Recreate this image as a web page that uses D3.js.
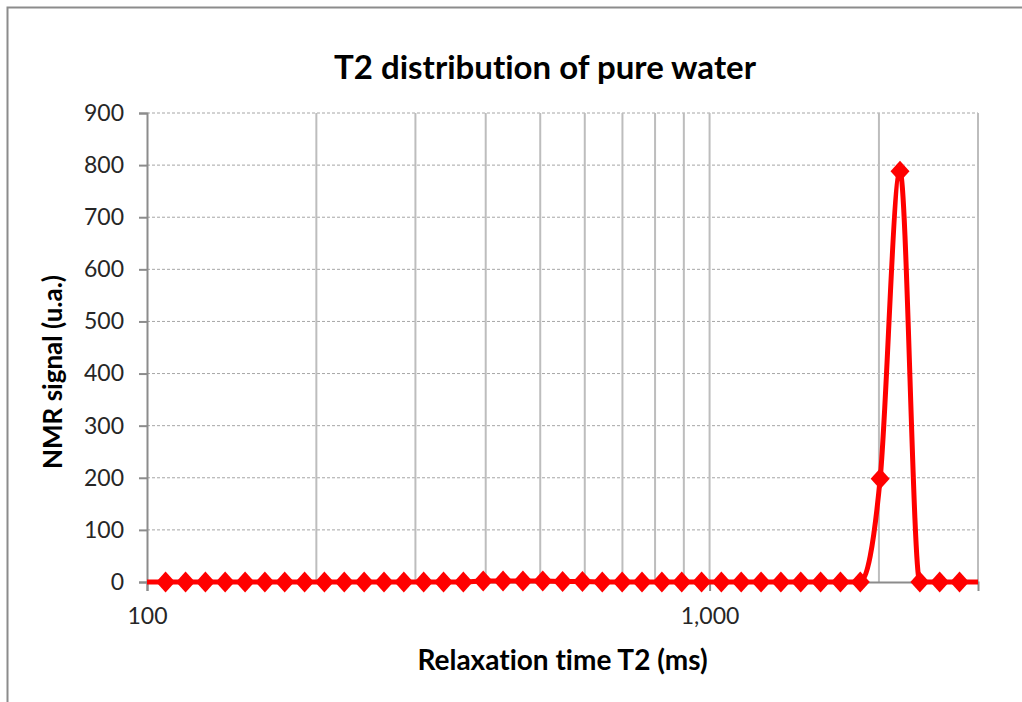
<!DOCTYPE html>
<html>
<head>
<meta charset="utf-8">
<script src="https://cdn.jsdelivr.net/npm/d3@7"></script>
<style>
  body { margin: 0; background: #fff; }
  svg { display: block; font-family: Lato, "Open Sans", "Liberation Sans", sans-serif; font-variant-ligatures: none; }
</style>
</head>
<body>
<svg id="chart" width="1022" height="702"></svg>
<script>
// T2 relaxation times (ms), log-spaced acquisition grid
const t2Ms = [99.5, 107.9, 117.1, 127.0, 137.7, 149.4, 162.0, 175.7, 190.6, 206.7,
  224.2, 243.2, 263.8, 286.1, 310.3, 336.6, 365.0, 395.9, 429.4, 465.8,
  505.2, 548.0, 594.3, 644.6, 699.2, 758.4, 822.6, 892.2, 967.7, 1049.3,
  1138.1, 1234.5, 1338.9, 1452.3, 1575.2, 1708.5, 1853.1, 2010.0, 2180.1, 2364.6,
  2564.7, 2781.8, 3017.3];
// NMR signal amplitude (u.a.) for each T2 bin
const nmrSignal = [0, 0, 0, 0, 0, 0, 0, 0, 0, 0,
  0, 0, 0, 0, 0, 0, 0, 2, 2, 2,
  2, 1, 1, 0, 0, 0, 0, 0, 0, 0,
  0, 0, 0, 0, 0, 0, 0, 198, 788, 0,
  0, 0, 0];

const yTicks = [0, 100, 200, 300, 400, 500, 600, 700, 800, 900];
const xLabelTicks = [100, 1000];
const xGridTicks = [200, 300, 400, 500, 600, 700, 800, 900, 1000, 2000, 3000];

const titleText = "T2 distribution of pure water";
const xTitleText = "Relaxation time T2 (ms)";
const yTitleText = "NMR signal (u.a.)";

const W = 1022, H = 702;
const plot = { left: 147, right: 978, top: 113, bottom: 582 };

const svg = d3.select("#chart");

const x = d3.scaleLog().domain([100, 3000]).range([plot.left, plot.right]);
const y = d3.scaleLinear().domain([0, 900]).range([plot.bottom, plot.top]);

// outer chart frame (left and top edges)
svg.append("path")
  .attr("d", `M7.5,${H} L7.5,7.5 L${W},7.5`)
  .attr("fill", "none").attr("stroke", "#8c8c8c").attr("stroke-width", 2);

// horizontal dashed gridlines
svg.append("g").selectAll("line").data(yTicks.filter(d => d > 0)).join("line")
  .attr("x1", plot.left).attr("x2", plot.right)
  .attr("y1", d => y(d)).attr("y2", d => y(d))
  .attr("stroke", "#a6a6a6").attr("stroke-width", 1)
  .attr("stroke-dasharray", "3,2");

// vertical log gridlines
svg.append("g").selectAll("line").data(xGridTicks).join("line")
  .attr("x1", d => x(d)).attr("x2", d => x(d))
  .attr("y1", plot.top).attr("y2", plot.bottom)
  .attr("stroke", "#bdbdbd").attr("stroke-width", 2);

// y axis
const yAxis = d3.axisLeft(y).tickValues(yTicks).tickSize(8).tickPadding(15)
  .tickFormat(d3.format("d"));
const gy = svg.append("g").attr("transform", `translate(${plot.left},0)`).call(yAxis);
gy.select(".domain").attr("stroke", "#8c8c8c").attr("stroke-width", 2);
gy.selectAll(".tick line").attr("stroke", "#8c8c8c").attr("stroke-width", 2);
gy.selectAll(".tick text").attr("font-size", 23).attr("fill", "#262626")
  .attr("font-family", "Lato, 'Open Sans', sans-serif");

// x axis
const xAxis = d3.axisBottom(x).tickValues(xLabelTicks).tickSize(9).tickPadding(17)
  .tickFormat(d3.format(","));
const gx = svg.append("g").attr("transform", `translate(0,${plot.bottom})`).call(xAxis);
gx.select(".domain").attr("stroke", "#8c8c8c").attr("stroke-width", 2);
gx.selectAll(".tick line").attr("stroke", "#8c8c8c").attr("stroke-width", 2);
gx.selectAll(".tick text").attr("font-size", 23).attr("fill", "#262626")
  .attr("font-family", "Lato, 'Open Sans', sans-serif");

// data series
const pts = t2Ms.map((t, i) => ({ t, v: nmrSignal[i] }));

svg.append("clipPath").attr("id", "plotClip")
  .append("rect").attr("x", plot.left).attr("y", 0)
  .attr("width", plot.right - plot.left).attr("height", H);

const line = d3.line().x(d => x(d.t)).y(d => y(d.v)).curve(d3.curveMonotoneX);

svg.append("path").datum(pts)
  .attr("clip-path", "url(#plotClip)")
  .attr("d", line)
  .attr("fill", "none").attr("stroke", "#ff0000").attr("stroke-width", 5)
  .attr("stroke-linejoin", "round");

// diamond markers (only inside the axis range)
const dx = 9.5, dy = 10.5;
svg.append("g").selectAll("path")
  .data(pts.filter(d => d.t >= 100 && d.t <= 3000)).join("path")
  .attr("transform", d => `translate(${x(d.t)},${y(d.v)})`)
  .attr("d", `M0,${-dy} L${dx},0 L0,${dy} L${-dx},0 Z`)
  .attr("fill", "#ff0000");

// titles
svg.append("text").attr("x", 545).attr("y", 79)
  .attr("text-anchor", "middle").attr("font-size", 33).attr("font-weight", "bold")
  .attr("fill", "#000").text(titleText);

svg.append("text").attr("x", (plot.left + plot.right) / 2).attr("y", 670)
  .attr("text-anchor", "middle").attr("font-size", 28).attr("font-weight", "bold")
  .attr("fill", "#000").text(xTitleText);

svg.append("text")
  .attr("transform", `translate(62,372) rotate(-90)`)
  .attr("text-anchor", "middle").attr("font-size", 26).attr("font-weight", "bold")
  .attr("fill", "#000").text(yTitleText);
</script>
</body>
</html>
